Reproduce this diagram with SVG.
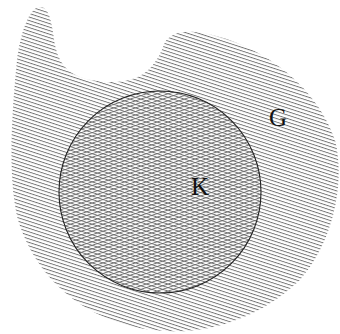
<svg xmlns="http://www.w3.org/2000/svg" width="340" height="334" viewBox="0 0 340 334">
  <style>
    .lbl { font-family: "Liberation Serif", "Times New Roman", serif; font-size: 25px; fill: #111; }
    .hline { stroke: #6a6a6a; stroke-width: 0.9; }
  </style>
  <defs>
    <pattern id="hatch" patternUnits="userSpaceOnUse" width="10" height="3.35" patternTransform="rotate(18)">
      <line class="hline" x1="-1" y1="0.5" x2="11" y2="0.5"/>
    </pattern>
    <pattern id="hatch2" patternUnits="userSpaceOnUse" width="10" height="3.35" patternTransform="rotate(-18)">
      <line class="hline" x1="-1" y1="0.5" x2="11" y2="0.5"/>
    </pattern>
  </defs>
  <rect width="340" height="334" fill="#ffffff"/>
  <g id="G">
    <path d="M 40,7 C 50,7 52,25 55,45 C 60,70 75,80 107,82 C 140,83 155,70 165,42 C 172,32 185,31 195,32 C 250,38 315,80 335,140 C 345,180 335,240 300,280 C 260,318 210,334 165,331 C 100,328 40,290 18,220 C 8,180 11,120 17,60 C 21,30 30,7 40,7 Z" fill="url(#hatch)"/>
    <text class="lbl" x="269" y="126">G</text>
  </g>
  <g id="K">
    <circle cx="160" cy="192" r="101" fill="#ffffff"/>
    <circle cx="160" cy="192" r="101" fill="url(#hatch)"/>
    <circle cx="160" cy="192" r="101" fill="url(#hatch2)" stroke="#222" stroke-width="1.1"/>
    <text class="lbl" x="191" y="195">K</text>
  </g>
  <g id="connectors"/>
</svg>
